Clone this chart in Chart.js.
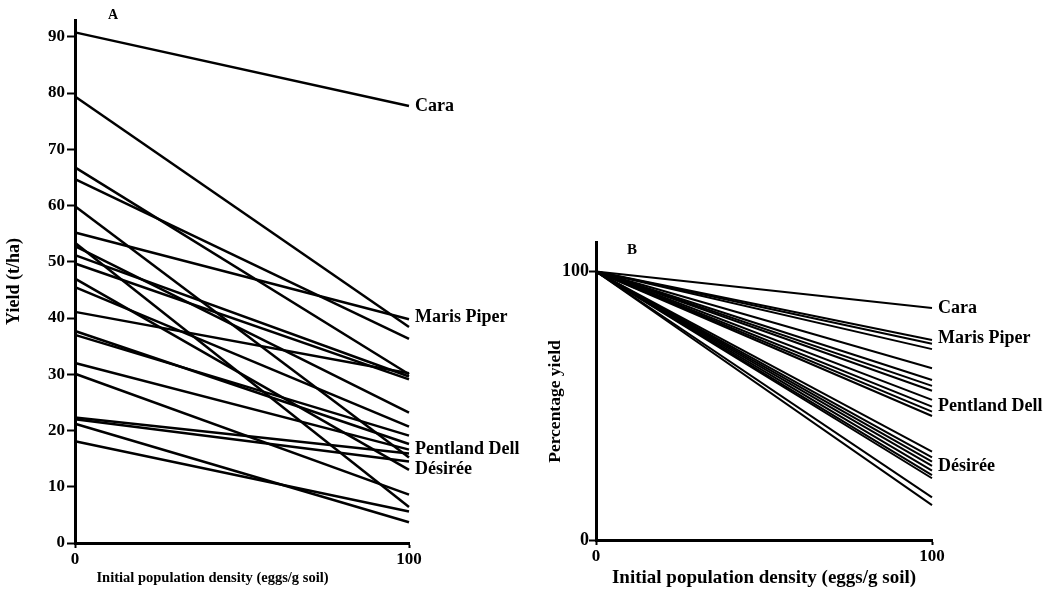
<!DOCTYPE html>
<html><head><meta charset="utf-8">
<script src="https://cdn.jsdelivr.net/npm/chart.js@4.4.1/dist/chart.umd.min.js"></script>
<style>
html,body{margin:0;padding:0;background:#fff;width:1056px;height:598px;overflow:hidden;}
canvas{position:absolute;top:0;}
#cA{left:0;} #cB{left:540px;}
</style></head><body>
<canvas id="cA" width="540" height="598"></canvas>
<canvas id="cB" width="516" height="598"></canvas>
<script>
// ---- data ----
const densityPoints = [0, 100];
const yieldAtZero    = [90.8, 79.4, 66.8, 64.7, 59.9, 55.2, 53.4, 52.8, 51.2, 49.7, 47.0, 45.5, 41.1, 37.7, 37.0, 32.0, 30.1, 22.3, 22.0, 21.2, 18.1];
const yieldAtHundred = [77.7, 38.4, 30.0, 36.3, 15.2, 39.8, 6.4, 23.2, 29.6, 29.1, 13.0, 20.7, 30.2, 17.6, 19.1, 16.6, 8.6, 15.9, 14.5, 3.7, 5.6];
const percentAtZero    = [100, 100, 100, 100, 100, 100, 100, 100, 100, 100, 100, 100, 100, 100, 100, 100, 100, 100, 100, 100, 100];
const percentAtHundred = [86.4, 74.5, 73.1, 71.1, 64.0, 59.6, 57.4, 55.6, 52.2, 49.7, 47.8, 46.2, 32.9, 30.8, 29.2, 27.6, 25.8, 24.2, 23.0, 15.9, 13.0];
const yieldTicks = [0, 10, 20, 30, 40, 50, 60, 70, 80, 90];
const percentTicks = [0, 100];
const densityTicks = [0, 100];
const cultivarNames = ['Cara', 'Maris Piper', 'Pentland Dell', 'Désirée'];
const cultivarLineA = [0, 5, 15, 10];
const cultivarLineB = [0, 1, 9, 15];

const SERIF = "'Liberation Serif', 'DejaVu Serif', serif";
Chart.defaults.font.family = SERIF;
Chart.defaults.color = '#000';

function makeDatasets(startVals, endVals, width) {
  return startVals.map((s, i) => ({
    data: [{x: densityPoints[0], y: s}, {x: densityPoints[1], y: endVals[i]}],
    borderColor: '#000', borderWidth: width, pointRadius: 0, fill: false, clip: false, tension: 0
  }));
}

function endLabels(names, idxs, font, dx, dys) {
  return {
    id: 'endLabels',
    afterDatasetsDraw(chart) {
      const ctx = chart.ctx;
      ctx.save();
      ctx.font = font; ctx.fillStyle = '#000';
      ctx.textBaseline = 'middle'; ctx.textAlign = 'left';
      idxs.forEach((di, k) => {
        const p = chart.getDatasetMeta(di).data[1];
        ctx.fillText(names[k], p.x + dx, p.y + (dys ? dys[k] : 0));
      });
      ctx.restore();
    }
  };
}

function panelText(items) {
  return {
    id: 'panelText',
    afterDraw(chart) {
      const ctx = chart.ctx;
      ctx.save(); ctx.fillStyle = '#000';
      items.forEach(it => {
        ctx.save();
        ctx.font = it.font; ctx.textAlign = 'center'; ctx.textBaseline = 'middle';
        ctx.translate(it.x, it.y);
        if (it.rot) ctx.rotate(it.rot);
        ctx.fillText(it.text, 0, 0);
        ctx.restore();
      });
      ctx.restore();
    }
  };
}

function scaleX(tickFont, tickLen, titleOpts, height) {
  return {
    type: 'linear', min: 0, max: 100,
    afterBuildTicks: s => { s.ticks = densityTicks.map(v => ({value: v})); },
    afterFit: s => { s.height = height; },
    grid: {display: true, drawOnChartArea: false, drawTicks: true, tickLength: tickLen, tickWidth: 2, tickColor: '#000'},
    border: {display: true, color: '#000', width: 3},
    ticks: {font: tickFont, color: '#000', padding: 1, maxRotation: 0, autoSkip: false},
    title: titleOpts
  };
}

// ---- Panel A ----
new Chart(document.getElementById('cA'), {
  type: 'line',
  data: {datasets: makeDatasets(yieldAtZero, yieldAtHundred, 2.5)},
  options: {
    responsive: false, animation: false, devicePixelRatio: 1,
    layout: {padding: {top: 20, right: 131, bottom: 0, left: 0}},
    plugins: {legend: {display: false}, tooltip: {enabled: false}},
    scales: {
      x: scaleX({size: 17, weight: 'bold'}, 5, {display: false}, 55),
      y: {
        type: 'linear', min: 0, max: 93,
        afterBuildTicks: s => { s.ticks = yieldTicks.map(v => ({value: v})); },
        afterFit: s => { s.width = 75; },
        grid: {display: true, drawOnChartArea: false, drawTicks: true, tickLength: 8, tickWidth: 2, tickColor: '#000'},
        border: {display: true, color: '#000', width: 3},
        ticks: {font: {size: 17, weight: 'bold'}, color: '#000', padding: 2},
        title: {display: true, text: 'Yield (t/ha)', font: {size: 18, weight: 'bold'}, color: '#000', padding: {top: 4, bottom: 0}}
      }
    }
  },
  plugins: [
    endLabels(cultivarNames, cultivarLineA, "bold 18px " + SERIF, 6, [0, -2, 0, -1]),
    panelText([
      {text: 'A', x: 113, y: 15, font: "bold 14px " + SERIF},
      {text: 'Initial population density (eggs/g soil)', x: 212.5, y: 578, font: "bold 14.5px " + SERIF}
    ])
  ]
});

// ---- Panel B ----
new Chart(document.getElementById('cB'), {
  type: 'line',
  data: {datasets: makeDatasets(percentAtZero, percentAtHundred, 2)},
  options: {
    responsive: false, animation: false, devicePixelRatio: 1,
    layout: {padding: {top: 242, right: 124, bottom: 0, left: 0}},
    plugins: {legend: {display: false}, tooltip: {enabled: false}},
    scales: {
      x: scaleX({size: 17, weight: 'bold'}, 5,
        {display: true, text: 'Initial population density (eggs/g soil)', font: {size: 19, weight: 'bold'}, color: '#000', padding: {top: 0, bottom: 8.5}}, 58),
      y: {
        type: 'linear', min: 0, max: 111,
        afterBuildTicks: s => { s.ticks = percentTicks.map(v => ({value: v})); },
        afterFit: s => { s.width = 56; },
        grid: {display: true, drawOnChartArea: false, drawTicks: true, tickLength: 7, tickWidth: 2, tickColor: '#000'},
        border: {display: true, color: '#000', width: 3},
        ticks: {font: {size: 18, weight: 'bold'}, color: '#000', padding: 0},
        title: {display: false}
      }
    }
  },
  plugins: [
    endLabels(cultivarNames, cultivarLineB, "bold 18px " + SERIF, 6, [0, -2, 0, 0]),
    panelText([
      {text: 'B', x: 92, y: 250, font: "bold 15px " + SERIF},
      {text: 'Percentage yield', x: 15.5, y: 401.5, rot: -Math.PI / 2, font: "bold 17.5px " + SERIF}
    ])
  ]
});
</script>
</body></html>
